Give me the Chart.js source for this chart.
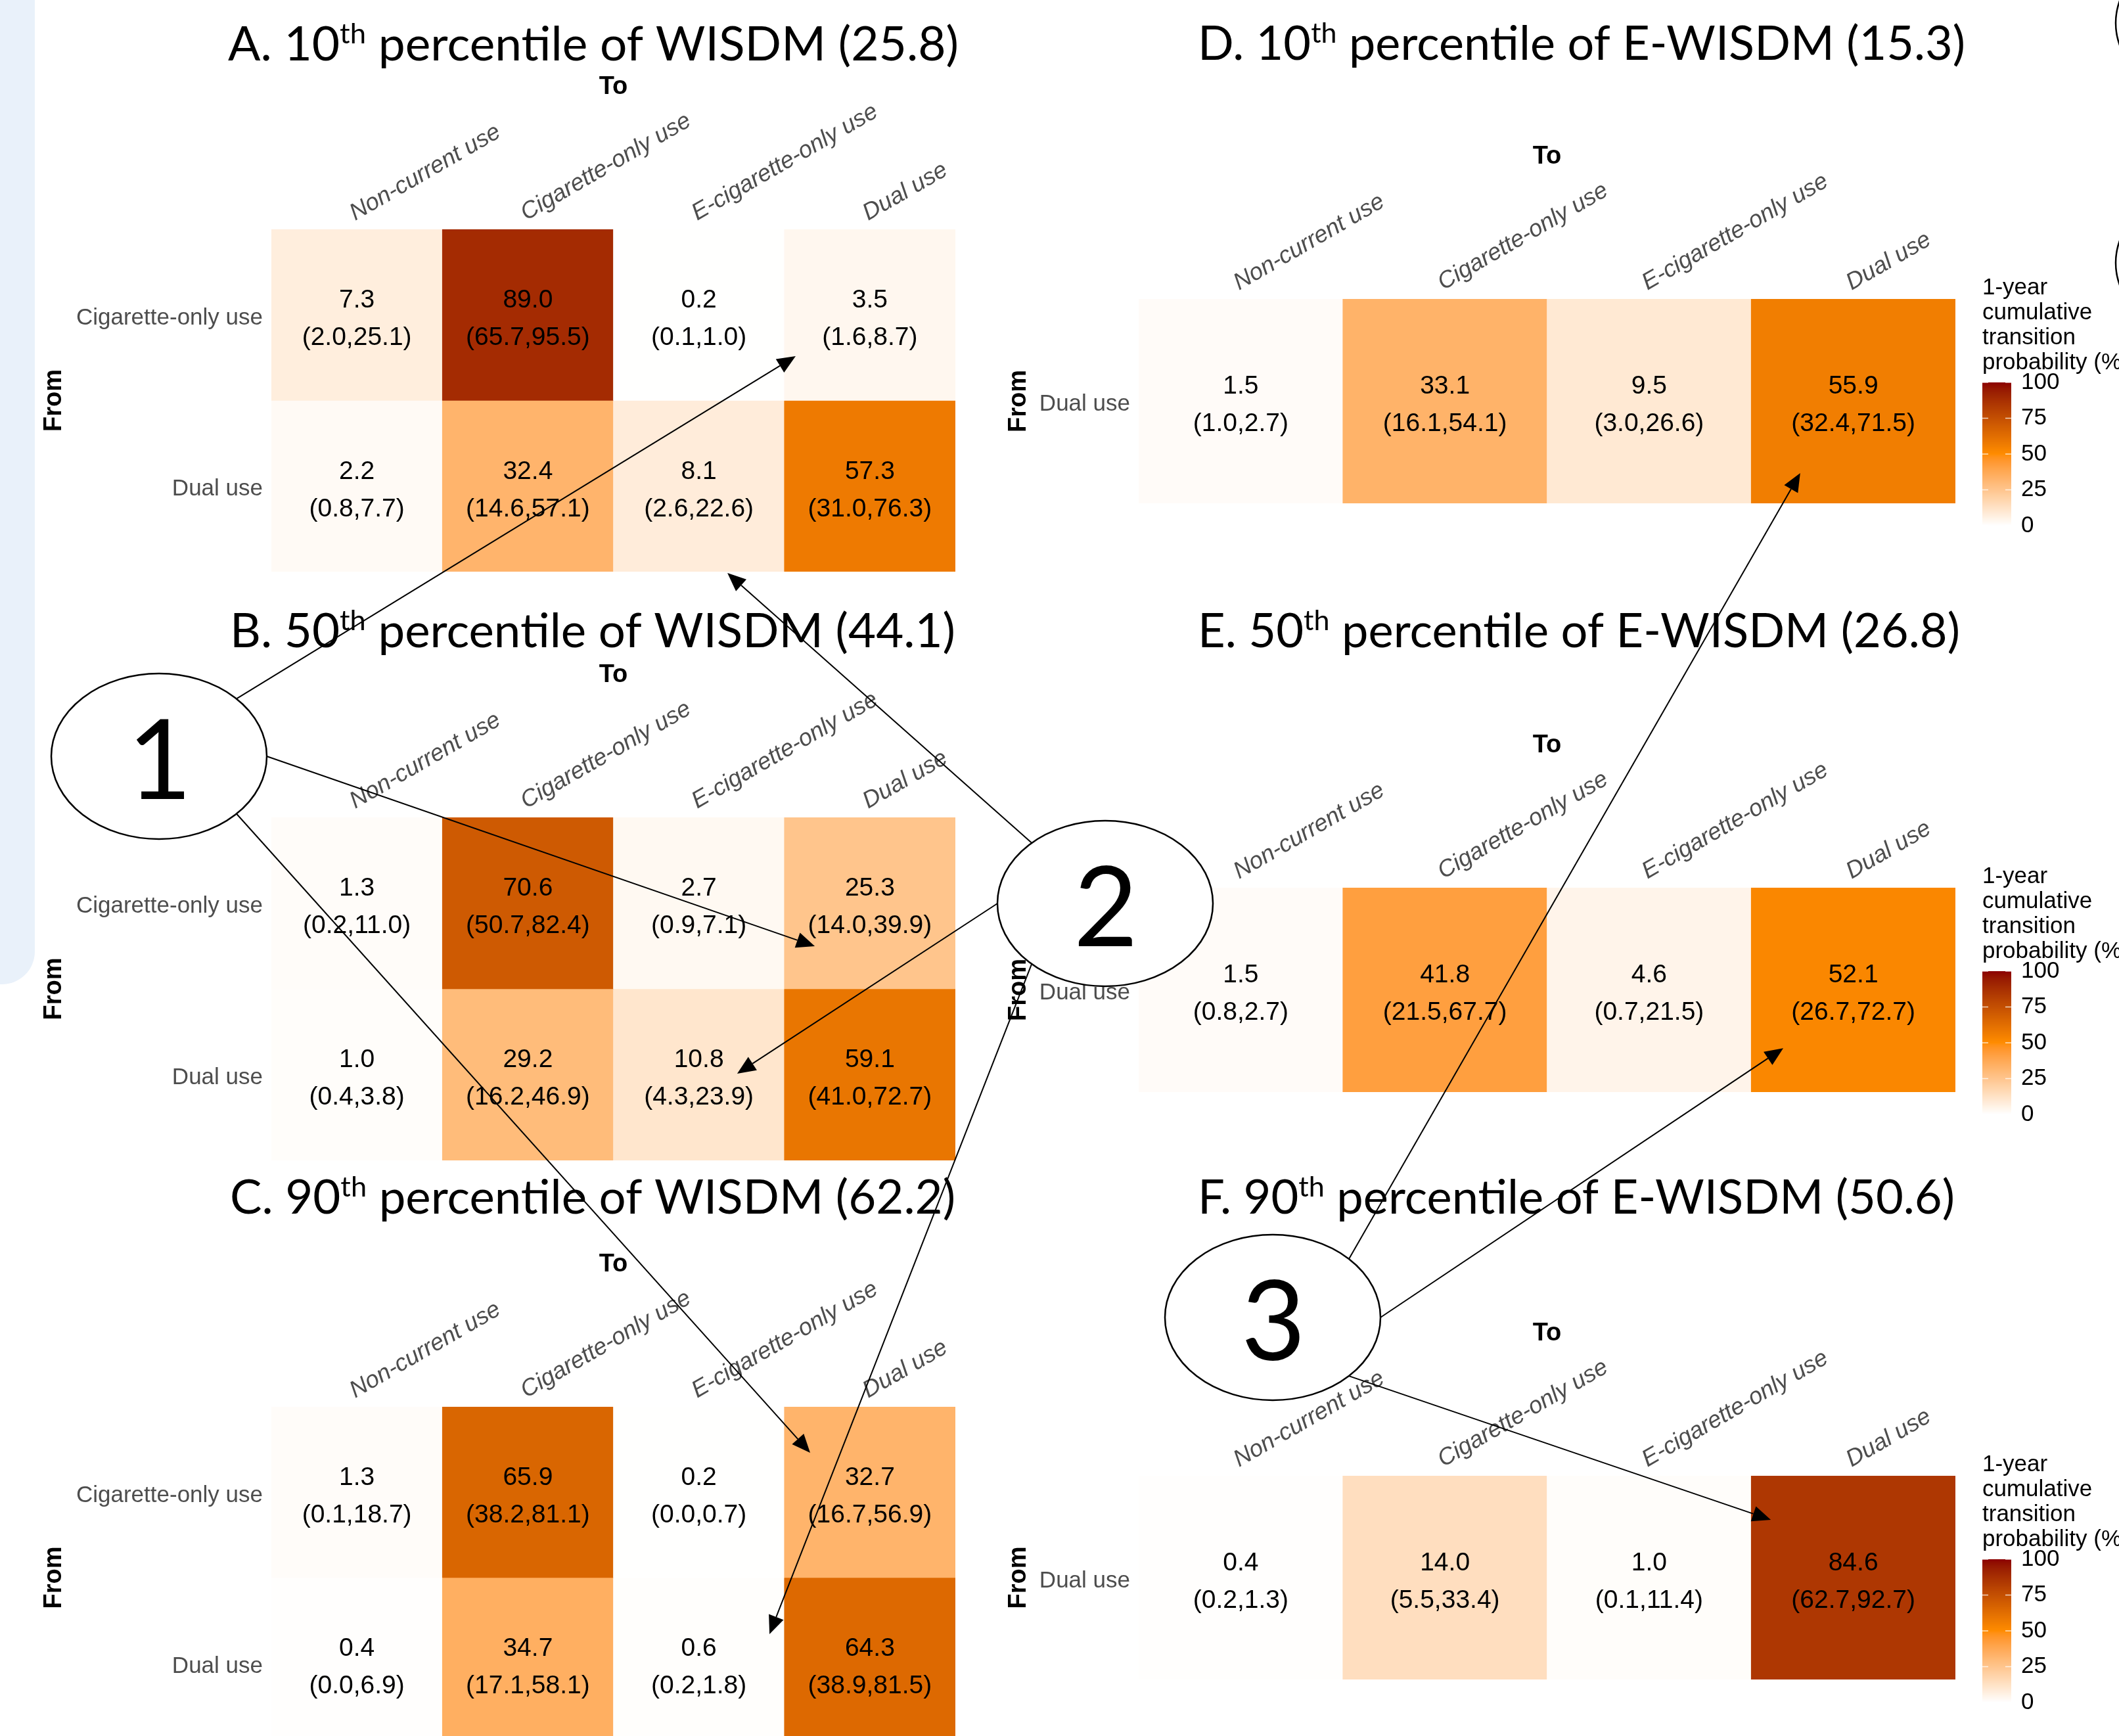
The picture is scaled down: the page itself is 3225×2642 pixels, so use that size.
<!DOCTYPE html>
<html>
<head>
<meta charset="utf-8">
<title>Transition probabilities by WISDM and E-WISDM percentile</title>
<script src="https://cdn.jsdelivr.net/npm/chart.js@4.4.1/dist/chart.umd.min.js"></script>
<style>
  html, body { margin: 0; padding: 0; background: #ffffff; width: 3225px; height: 2642px; overflow: hidden; position: relative; }
  canvas { position: absolute; }
  #side { position: absolute; left: 0; top: 0; width: 53px; height: 1498px; background: #e9f1fa; border-bottom-right-radius: 50px; }
  #overlay { left: 0; top: 0; z-index: 10; }
</style>
</head>
<body>
<div id="side"></div>
<canvas id="overlay" width="3225" height="2642"></canvas>
<script>
// ---- categories ----
const toStates = ['Non-current use', 'Cigarette-only use', 'E-cigarette-only use', 'Dual use'];
const fromStatesCig = ['Cigarette-only use', 'Dual use'];
const fromStatesDual = ['Dual use'];

// ---- panel headings ----
const panelLetters = ['A', 'B', 'C', 'D', 'E', 'F'];
const percentiles = [10, 50, 90, 10, 50, 90];
const indexNames = ['WISDM', 'WISDM', 'WISDM', 'E-WISDM', 'E-WISDM', 'E-WISDM'];
const indexScores = ['25.8', '44.1', '62.2', '15.3', '26.8', '50.6'];

// ---- 1-year cumulative transition probabilities (%) : rows = from, cols = to ----
const estA  = [[7.3, 89.0, 0.2, 3.5], [2.2, 32.4, 8.1, 57.3]];
const lowA  = [[2.0, 65.7, 0.1, 1.6], [0.8, 14.6, 2.6, 31.0]];
const highA = [[25.1, 95.5, 1.0, 8.7], [7.7, 57.1, 22.6, 76.3]];

const estB  = [[1.3, 70.6, 2.7, 25.3], [1.0, 29.2, 10.8, 59.1]];
const lowB  = [[0.2, 50.7, 0.9, 14.0], [0.4, 16.2, 4.3, 41.0]];
const highB = [[11.0, 82.4, 7.1, 39.9], [3.8, 46.9, 23.9, 72.7]];

const estC  = [[1.3, 65.9, 0.2, 32.7], [0.4, 34.7, 0.6, 64.3]];
const lowC  = [[0.1, 38.2, 0.0, 16.7], [0.0, 17.1, 0.2, 38.9]];
const highC = [[18.7, 81.1, 0.7, 56.9], [6.9, 58.1, 1.8, 81.5]];

const estD  = [[1.5, 33.1, 9.5, 55.9]];
const lowD  = [[1.0, 16.1, 3.0, 32.4]];
const highD = [[2.7, 54.1, 26.6, 71.5]];

const estE  = [[1.5, 41.8, 4.6, 52.1]];
const lowE  = [[0.8, 21.5, 0.7, 26.7]];
const highE = [[2.7, 67.7, 21.5, 72.7]];

const estF  = [[0.4, 14.0, 1.0, 84.6]];
const lowF  = [[0.2, 5.5, 0.1, 62.7]];
const highF = [[1.3, 33.4, 11.4, 92.7]];

// ---- colour bar ----
const legendTicks = [0, 25, 50, 75, 100];
const legendTitle = ['1-year', 'cumulative', 'transition', 'probability (%)'];

// ---- annotation arrows: circle -> (panel, column units, row units) ----
const circleLabels = ['1', '2', '3'];
const arrowFrom   = [0, 0, 0, 1, 1, 1, 2, 2, 2];
const arrowAngle  = [-44, 0, 44, -133, 180, 133, -45, 0, 45];
const arrowPanel  = [0, 1, 2, 0, 1, 2, 3, 4, 5];
const arrowCol    = [2.566, 2.678, 2.651, 2.167, 2.224, 2.413, 2.740, 2.657, 2.596];
const arrowRow    = [0.741, 0.751, 0.269, 2.008, 1.494, 1.331, 0.852, 0.785, 0.216];

// ================= styling / layout =================
const SANS = "'Liberation Sans', Arial, Helvetica, sans-serif";
const HEAD = "Lato, 'Open Sans', sans-serif";
const fillStops = ['#ffffff', '#ff8c00', '#8b0000'];   // at 0, 50, 100

// page geometry of each panel: canvas box, cell grid box, heading position/width, "From" centre
const panelBoxes = [
  { left: 0,    top: 0,    w: 1520, h: 870, cells: [413, 349, 1454, 870],    head: [347, 92, 1112],    fromX: 83 },
  { left: 0,    top: 880,  w: 1520, h: 886, cells: [413, 1244, 1454, 1766],  head: [350, 985, 1104],   fromX: 83 },
  { left: 0,    top: 1775, w: 1520, h: 886, cells: [413, 2141, 1454, 2661],  head: [350, 1847, 1104],  fromX: 83 },
  { left: 1500, top: 0,    w: 1800, h: 860, cells: [1733, 455, 2976, 766],   head: [1823, 91, 1168],   fromX: 1551 },
  { left: 1500, top: 880,  w: 1800, h: 870, cells: [1733, 1351, 2976, 1662], head: [1823, 985, 1160],  fromX: 1551 },
  { left: 1500, top: 1775, w: 1800, h: 867, cells: [1733, 2246, 2976, 2556], head: [1823, 1847, 1152], fromX: 1551 }
];
const circleCenters = [[242, 1151], [1682, 1375], [1937, 2005]];
const CIRCLE_RX = 164, CIRCLE_RY = 126;

// ---- CIELAB colour ramp (white -> dark orange -> dark red) ----
function hexToRgb(h) { return [1, 3, 5].map(i => parseInt(h.slice(i, i + 2), 16)); }
function lin(c) { c /= 255; return c <= 0.04045 ? c / 12.92 : Math.pow((c + 0.055) / 1.055, 2.4); }
function delin(c) { c = c <= 0.0031308 ? 12.92 * c : 1.055 * Math.pow(c, 1 / 2.4) - 0.055; return Math.round(Math.max(0, Math.min(1, c)) * 255); }
const XN = 0.95047, YN = 1.0, ZN = 1.08883;
function rgbToLab(rgb) {
  const [r, g, b] = rgb.map(lin);
  const X = (0.4124564 * r + 0.3575761 * g + 0.1804375 * b) / XN;
  const Y = (0.2126729 * r + 0.7151522 * g + 0.0721750 * b) / YN;
  const Z = (0.0193339 * r + 0.1191920 * g + 0.9503041 * b) / ZN;
  const f = t => t > 216 / 24389 ? Math.cbrt(t) : (24389 / 27 * t + 16) / 116;
  const fx = f(X), fy = f(Y), fz = f(Z);
  return [116 * fy - 16, 500 * (fx - fy), 200 * (fy - fz)];
}
function labToRgb([L, a, b]) {
  const fy = (L + 16) / 116, fx = fy + a / 500, fz = fy - b / 200;
  const finv = t => t * t * t > 216 / 24389 ? t * t * t : (116 * t - 16) / (24389 / 27);
  const X = finv(fx) * XN, Y = finv(fy) * YN, Z = finv(fz) * ZN;
  const r = 3.2404542 * X - 1.5371385 * Y - 0.4985314 * Z;
  const g = -0.9692660 * X + 1.8760108 * Y + 0.0415560 * Z;
  const bb = 0.0556434 * X - 0.2040259 * Y + 1.0572252 * Z;
  return [delin(r), delin(g), delin(bb)];
}
const stopLabs = fillStops.map(h => rgbToLab(hexToRgb(h)));
function fillFor(v) {
  const t = Math.max(0, Math.min(100, v)) / 50;
  const i = Math.min(1, Math.floor(t));
  const f = t - i;
  const A = stopLabs[i], B = stopLabs[i + 1];
  const rgb = labToRgb([0, 1, 2].map(k => A[k] + (B[k] - A[k]) * f));
  return `rgb(${rgb[0]},${rgb[1]},${rgb[2]})`;
}

// ---- heading with superscript ordinal ----
const HEAD_SIZE = 72, SUP_SIZE = 43, SUP_RISE = 26;
function headParts(i) {
  return [panelLetters[i] + '. ' + percentiles[i], 'th', ' percentile of ' + indexNames[i] + ' (' + indexScores[i] + ')'];
}
function drawHeading(ctx, x, y, width, i) {
  const p = headParts(i);
  ctx.save();
  ctx.font = `${HEAD_SIZE}px ${HEAD}`;
  const w0 = ctx.measureText(p[0]).width, w2 = ctx.measureText(p[2]).width;
  ctx.font = `${SUP_SIZE}px ${HEAD}`;
  const w1 = ctx.measureText(p[1]).width;
  ctx.translate(x, y);
  ctx.scale(width / (w0 + w1 + w2), 1);
  ctx.fillStyle = '#000';
  ctx.textAlign = 'left';
  ctx.textBaseline = 'alphabetic';
  ctx.font = `${HEAD_SIZE}px ${HEAD}`;
  ctx.fillText(p[0], 0, 0);
  ctx.font = `${SUP_SIZE}px ${HEAD}`;
  ctx.fillText(p[1], w0, -SUP_RISE);
  ctx.font = `${HEAD_SIZE}px ${HEAD}`;
  ctx.fillText(p[2], w0 + w1, 0);
  ctx.restore();
}

// ---- plugins ----
function cellTextPlugin(est, low, high) {
  return {
    id: 'cellText',
    afterDatasetsDraw(chart) {
      const ctx = chart.ctx;
      ctx.save();
      ctx.fillStyle = '#000';
      ctx.textAlign = 'center';
      ctx.textBaseline = 'middle';
      ctx.font = `39px ${SANS}`;
      chart.data.datasets.forEach((ds, ri) => {
        chart.getDatasetMeta(ri).data.forEach((bar, ci) => {
          const cy = (bar.y + bar.base) / 2;
          ctx.fillText(est[ri][ci].toFixed(1), bar.x, cy - 22);
          ctx.fillText('(' + low[ri][ci].toFixed(1) + ',' + high[ri][ci].toFixed(1) + ')', bar.x, cy + 35);
        });
      });
      ctx.restore();
    }
  };
}

function headingPlugin(i) {
  const g = panelBoxes[i];
  return {
    id: 'heading',
    afterDraw(chart) { drawHeading(chart.ctx, g.head[0] - g.left, g.head[1] - g.top, g.head[2], i); }
  };
}

const colorBarPlugin = {
  id: 'colorBar',
  afterDraw(chart) {
    const ctx = chart.ctx, a = chart.chartArea;
    const bx = a.right + 41, by = a.top + 127, bw = 44, bh = 218;
    ctx.save();
    for (let k = 0; k < bh; k++) {
      const v = 100 * (1 - (k + 0.5) / bh);
      ctx.fillStyle = fillFor(v);
      ctx.fillRect(bx, by + k, bw, 1.2);
    }
    ctx.strokeStyle = 'rgba(255,255,255,0.75)';
    ctx.lineWidth = 1.5;
    ctx.fillStyle = '#000';
    ctx.font = `35px ${SANS}`;
    ctx.textAlign = 'left';
    ctx.textBaseline = 'middle';
    legendTicks.forEach(t => {
      const y = by + bh * (1 - t / 100);
      ctx.beginPath();
      ctx.moveTo(bx, y); ctx.lineTo(bx + 9, y);
      ctx.moveTo(bx + bw - 9, y); ctx.lineTo(bx + bw, y);
      ctx.stroke();
      ctx.fillText(String(t), bx + bw + 15, y);
    });
    legendTitle.forEach((line, j) => ctx.fillText(line, bx, a.top - 17 + j * 38));
    ctx.restore();
  }
};

// ---- build one heat-map panel ----
function makePanel(i, rows, est, low, high, withBar) {
  const g = panelBoxes[i];
  const [cl, ct, cr, cb] = g.cells;
  const cv = document.createElement('canvas');
  cv.width = g.w; cv.height = g.h;
  cv.style.left = g.left + 'px';
  cv.style.top = g.top + 'px';
  document.body.appendChild(cv);

  const titleHalf = 38 * 1.2 / 2;
  const padTop = (ct - 216) - titleHalf - g.top;
  const padLeft = g.fromX - titleHalf - g.left;
  const xHeight = ct - g.top - padTop;
  const yWidth = cl - g.left - padLeft;

  const plugins = [cellTextPlugin(est, low, high), headingPlugin(i)];
  if (withBar) plugins.push(colorBarPlugin);

  return new Chart(cv, {
    type: 'bar',
    data: {
      labels: toStates,
      datasets: rows.map((r, ri) => ({
        label: r,
        data: toStates.map(() => [ri, ri + 1]),
        backgroundColor: est[ri].map(fillFor),
        borderWidth: 0,
        barPercentage: 1,
        categoryPercentage: 1,
        grouped: false
      }))
    },
    options: {
      responsive: false,
      animation: false,
      events: [],
      layout: { padding: { left: padLeft, top: padTop, right: g.w - (cr - g.left), bottom: g.h - (cb - g.top) } },
      plugins: { legend: { display: false }, tooltip: { enabled: false }, title: { display: false } },
      scales: {
        x: {
          type: 'category',
          position: 'top',
          grid: { display: false, drawTicks: false },
          border: { display: false },
          ticks: { font: { family: SANS, size: 36, style: 'italic' }, color: '#4d4d4d', minRotation: 30, maxRotation: 30, padding: 3, labelOffset: 14, autoSkip: false },
          title: { display: true, text: 'To', font: { family: SANS, size: 38, weight: 'bold' }, color: '#000', padding: 0 },
          afterFit(s) { s.height = xHeight; s.paddingLeft = 0; s.paddingRight = 0; }
        },
        y: {
          type: 'linear',
          min: 0, max: rows.length, reverse: true,
          grid: { display: false, drawTicks: false },
          border: { display: false },
          afterBuildTicks(s) { s.ticks = rows.map((_, k) => ({ value: k + 0.5 })); },
          ticks: { callback: (v, k) => rows[k], font: { family: SANS, size: 35 }, color: '#4d4d4d', padding: 13, labelOffset: 5, autoSkip: false },
          title: { display: true, text: 'From', font: { family: SANS, size: 38, weight: 'bold' }, color: '#000', padding: 0 },
          afterFit(s) { s.width = yWidth; s.paddingTop = 0; s.paddingBottom = 0; }
        }
      }
    },
    plugins
  });
}

const charts = [
  makePanel(0, fromStatesCig, estA, lowA, highA, false),
  makePanel(1, fromStatesCig, estB, lowB, highB, false),
  makePanel(2, fromStatesCig, estC, lowC, highC, false),
  makePanel(3, fromStatesDual, estD, lowD, highD, true),
  makePanel(4, fromStatesDual, estE, lowE, highE, true),
  makePanel(5, fromStatesDual, estF, lowF, highF, true)
];

// ---- numbered call-outs and arrows ----
(function drawOverlay() {
  const ctx = document.getElementById('overlay').getContext('2d');
  ctx.strokeStyle = '#000';
  ctx.fillStyle = '#000';
  ctx.lineWidth = 2;
  arrowFrom.forEach((c, k) => {
    const [cx, cy] = circleCenters[c];
    const th = arrowAngle[k] * Math.PI / 180;
    const sx = cx + CIRCLE_RX * Math.cos(th), sy = cy + CIRCLE_RY * Math.sin(th);
    const ch = charts[arrowPanel[k]], g = panelBoxes[arrowPanel[k]];
    const tx = g.left + ch.scales.x.getPixelForValue(arrowCol[k]);
    const ty = g.top + ch.scales.y.getPixelForValue(arrowRow[k]);
    const ang = Math.atan2(ty - sy, tx - sx);
    const L = 28, W = 12;
    const bx = tx - L * Math.cos(ang), by = ty - L * Math.sin(ang);
    ctx.beginPath(); ctx.moveTo(sx, sy); ctx.lineTo(bx, by); ctx.stroke();
    ctx.beginPath();
    ctx.moveTo(tx, ty);
    ctx.lineTo(bx + W * Math.sin(ang), by - W * Math.cos(ang));
    ctx.lineTo(bx - W * Math.sin(ang), by + W * Math.cos(ang));
    ctx.closePath(); ctx.fill();
  });

  ctx.lineWidth = 2.5;
  circleCenters.forEach(([cx, cy], k) => {
    ctx.beginPath();
    ctx.ellipse(cx, cy, CIRCLE_RX, CIRCLE_RY, 0, 0, Math.PI * 2);
    ctx.fillStyle = '#fff'; ctx.fill();
    ctx.stroke();
    ctx.fillStyle = '#000';
    ctx.font = `169px ${HEAD}`;
    ctx.textAlign = 'center';
    ctx.textBaseline = 'alphabetic';
    ctx.fillText(circleLabels[k], cx + 1, cy + 65);
  });

  // call-outs running off the right edge
  [[3384, 35], [3384, 400]].forEach(([cx, cy]) => {
    ctx.beginPath();
    ctx.ellipse(cx, cy, CIRCLE_RX, CIRCLE_RY, 0, 0, Math.PI * 2);
    ctx.stroke();
  });
})();
</script>
</body>
</html>
